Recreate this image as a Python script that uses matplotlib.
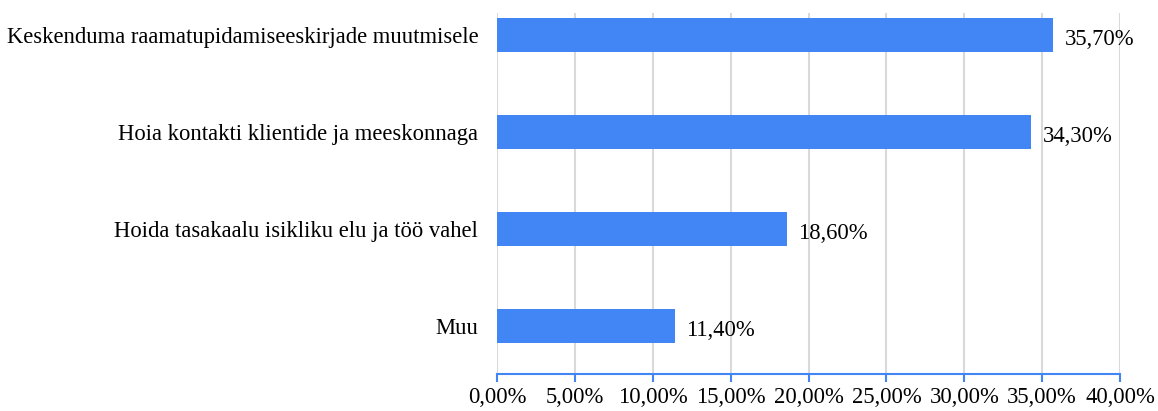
import matplotlib.pyplot as plt
import matplotlib.transforms as mtransforms
import numpy as np

categories = [
    "Keskenduma raamatupidamiseeskirjade muutmisele",
    "Hoia kontakti klientide ja meeskonnaga",
    "Hoida tasakaalu isikliku elu ja töö vahel",
    "Muu",
]
values = [35.7, 34.3, 18.6, 11.4]
x_ticks = [0, 5, 10, 15, 20, 25, 30, 35, 40]

BAR_COLOR = "#4285f4"
GRID_COLOR = "#d9d9d9"
FONT_SIZE = 16.3

plt.rcParams["font.family"] = ["Liberation Serif", "DejaVu Serif"]

fig = plt.figure(figsize=(11.58, 4.11), dpi=100)
ax = fig.add_axes([0.4292, 0.09, 0.538, 0.878])

y = np.arange(len(categories))
ax.barh(y, values, height=0.35, color=BAR_COLOR, zorder=3)

for yi, v in zip(y, values):
    ax.text(v + 0.75, yi + 0.045, f"{v:.2f}%".replace(".", ","), va="center", ha="left",
            fontsize=FONT_SIZE, color="black")

ax.set_xlim(0, 40)
ax.set_ylim(3.495, -0.227)
ax.set_yticks(y)
ax.set_yticklabels(categories, fontsize=FONT_SIZE)
ax.set_xticks(x_ticks)
ax.set_xticklabels([f"{t:.2f}%".replace(".", ",") for t in x_ticks], fontsize=FONT_SIZE)

# nudge category labels down a touch
shift = mtransforms.ScaledTranslation(0, -3 / 100, fig.dpi_scale_trans)
for lbl in ax.get_yticklabels():
    lbl.set_transform(lbl.get_transform() + shift)

ax.grid(axis="x", color=GRID_COLOR, linewidth=1.5, zorder=0)
ax.tick_params(axis="y", length=0, pad=13.5)
ax.tick_params(axis="x", length=6, width=1.5, color=BAR_COLOR, pad=3)

for side in ["top", "right", "left"]:
    ax.spines[side].set_visible(False)
ax.spines["bottom"].set_color(BAR_COLOR)
ax.spines["bottom"].set_linewidth(1.5)

fig.savefig("out.png", dpi=100)
